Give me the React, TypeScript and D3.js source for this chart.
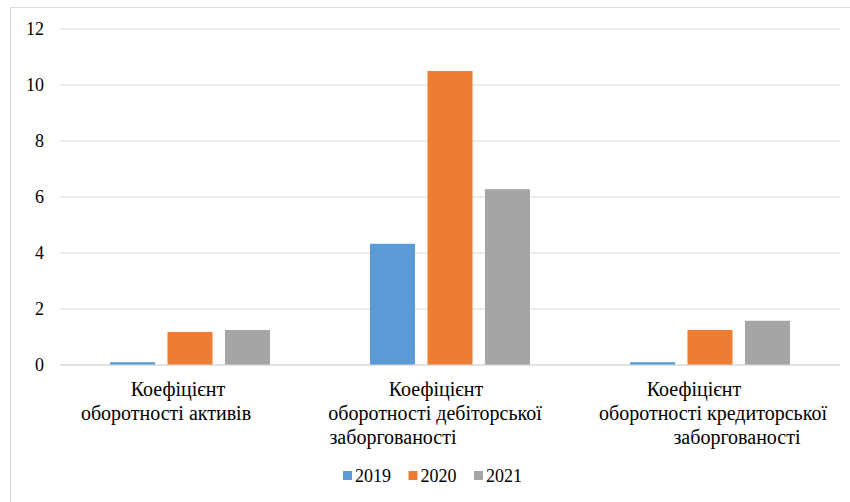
import React from "react";
import * as d3 from "d3";

const categories = ["assets", "receivable", "payable"];
const labelLines = [
  ["Коефіцієнт", "оборотності активів"],
  ["Коефіцієнт", "оборотності дебіторської", "заборгованості"],
  ["Коефіцієнт", "оборотності кредиторської", "заборгованості"],
];
const seriesNames = ["2019", "2020", "2021"];
const values2019 = [0.1, 4.33, 0.1];
const values2020 = [1.18, 10.5, 1.25];
const values2021 = [1.25, 6.28, 1.58];
const yTicks = [0, 2, 4, 6, 8, 10, 12];
const colors = ["#5b9bd5", "#ed7d31", "#a5a5a5"];

// per-line horizontal offsets (from band center) mimicking the reference's wrapped label layout
const labelOffsets = [
  [-12, -24],
  [-14, -15, -57],
  [-16, 3, 27],
];

export default function App() {
  const W = 850, H = 502;
  const left = 60, right = 840, top = 29, bottom = 365;
  const x0 = d3.scaleBand<string>().domain(categories).range([left, right]).paddingInner(0).paddingOuter(0);
  const x1 = d3.scaleBand<string>().domain(seriesNames).range([0, x0.bandwidth()]).paddingInner(0.217).paddingOuter(0.87);
  const y = d3.scaleLinear().domain([0, 12]).range([bottom, top]);
  const series = [values2019, values2020, values2021];
  const font = "'Liberation Serif', 'Times New Roman', serif";
  const ts: React.CSSProperties = { fontFamily: font, fontSize: "18px" };
  const ls: React.CSSProperties = { fontFamily: font, fontSize: "20px" };

  return (
    <svg width={W} height={H} style={{ position: "absolute", left: 0, top: 0, background: "#fff" }}>
      <rect x={10.5} y={7.5} width={W} height={H} fill="#fff" stroke="#d9d9d9" />
      {yTicks.map((t) => (
        <g key={t}>
          <line x1={left} x2={right} y1={y(t)} y2={y(t)} stroke="#d9d9d9" strokeWidth={1} />
          <text x={44} y={y(t)} dy="0.35em" textAnchor="end" style={ts} fill="#000">{t}</text>
        </g>
      ))}
      {categories.map((c, ci) => (
        <g key={c}>
          {seriesNames.map((s, si) => (
            <rect
              key={s}
              x={(x0(c) ?? 0) + (x1(s) ?? 0)}
              y={y(series[si][ci])}
              width={x1.bandwidth()}
              height={bottom - y(series[si][ci])}
              fill={colors[si]}
            />
          ))}
          {labelLines[ci].map((ln, li) => (
            <text
              key={li}
              x={(x0(c) ?? 0) + x0.bandwidth() / 2 + labelOffsets[ci][li]}
              y={396 + li * 24}
              textAnchor="middle"
              style={ls}
              fill="#000"
            >
              {ln}
            </text>
          ))}
        </g>
      ))}
      <line x1={left} x2={right} y1={bottom} y2={bottom} stroke="#d9d9d9" strokeWidth={1} />
      {seriesNames.map((s, si) => (
        <g key={s} transform={`translate(${343 + si * 65.5},476)`}>
          <rect x={0} y={-5} width={9} height={9} fill={colors[si]} />
          <text x={12} y={0} dy="0.35em" style={ts} fill="#000">{s}</text>
        </g>
      ))}
    </svg>
  );
}
